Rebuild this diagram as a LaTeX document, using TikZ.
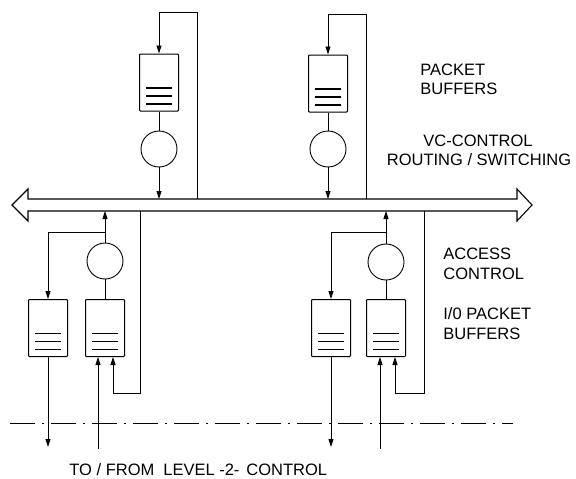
\documentclass[tikz,border=0pt]{standalone}
\usepackage{fontspec}
\setmainfont{Liberation Sans}
\usetikzlibrary{arrows.meta}
\begin{document}
\begin{tikzpicture}[x=1pt,y=-1pt,
  line width=0.8pt,
  buf/.style={draw,line width=1pt,rounded corners=0.8pt,minimum width=39pt,minimum height=57pt,inner sep=0pt,
    path picture={
      \foreach \d in {23,15,7}{
        \draw[line width=1.1pt] ([shift={(-13,-\d)}]path picture bounding box.south) -- ([shift={(13,-\d)}]path picture bounding box.south);
      }}},
  ctl/.style={draw,line width=0.9pt,circle,minimum size=36pt,inner sep=0pt},
  arr/.style={-{Triangle[length=8pt,width=5pt]}},
  lbl/.style={font=\fontsize{16.5}{20}\selectfont,inner sep=0pt},
  dashdot/.style={line width=0.8pt,dash pattern=on 25pt off 7pt on 2pt off 7pt}
]
\useasboundingbox (0,0) rectangle (576,479);

% bus
\draw[line width=1.1pt,fill=white] (28,199) -- (517,199) -- (517,189) -- (532,205) -- (517,221) -- (517,211)
  -- (28,211) -- (28,221) -- (12,205) -- (28,189) -- cycle;

% coordinates on bus
\coordinate (bt1) at (159,199);
\coordinate (bt1r) at (197,199);
\coordinate (bt2) at (328,199);
\coordinate (bt2r) at (366,199);
\coordinate (bb1) at (105,211);
\coordinate (bb1r) at (140,211);
\coordinate (bb2) at (386,211);
\coordinate (bb2r) at (424,211);

% top modules
\node[buf] (t1) at (159,82.5) {};
\node[ctl] (c1) at (159,149) {};
\node[buf] (t2) at (328,83.5) {};
\node[ctl] (c2) at (328,149) {};
\draw (t1.south) -- (c1.north);
\draw (t2.south) -- (c2.north);
\draw[arr] (c1.south) -- (bt1);
\draw[arr] (c2.south) -- (bt2);
\draw[arr] (bt1r) |- (159,12) -- (t1.north);
\draw[arr] (bt2r) |- (328,14) -- (t2.north);

% bottom left group
\node[buf] (l1) at (48,328) {};
\node[buf] (l2) at (105,328) {};
\node[ctl] (cl) at (105,261) {};
\draw (l2.north) -- (cl.north |- l2.north) -- (cl.south);
\draw[arr] (cl.north) -- (bb1);
\coordinate (jl) at (105,232);
\draw[arr] (jl) -| (l1.north);
\coordinate (l1out) at (48,447);
\draw[arr] (l1.south) -- (l1out);
\coordinate (l2in) at (98,449);
\draw[arr] (l2in) -- (l2in |- l2.south);
\draw[arr] (bb1r) -- (140,393) -| (113,357);

% bottom right group
\node[buf] (r1) at (331,328) {};
\node[buf] (r2) at (386,328) {};
\node[ctl] (cr) at (386,262) {};
\draw (r2.north) -- (cr.south);
\draw[arr] (cr.north) -- (bb2);
\coordinate (jr) at (386,232);
\draw[arr] (jr) -| (r1.north);
\coordinate (r1out) at (331,447);
\draw[arr] (r1.south) -- (r1out);
\coordinate (r2in) at (380,449);
\draw[arr] (r2in) -- (r2in |- r2.south);
\draw[arr] (bb2r) -- (424,393) -| (395,357);

% dash-dot boundary
\coordinate (dl) at (10,423);
\coordinate (dr) at (513,423);
\draw[dashdot] (dl) -- (dr);

% labels
\node[lbl,anchor=base west] (p1) at (420,75) {PACKET};
\node[lbl,anchor=base west] (p2) at (420,94) {BUFFERS};
\node[lbl,anchor=base] (v1) at (478,146) {VC-CONTROL};
\node[lbl,anchor=base] (v2) at (479,165) {ROUTING / SWITCHING};
\node[lbl,anchor=base west] (a1) at (443,259) {ACCESS};
\node[lbl,anchor=base west] (a2) at (443,279) {CONTROL};
\node[lbl,anchor=base west] (i1) at (443,319) {I/0 PACKET};
\node[lbl,anchor=base west] (i2) at (443,339) {BUFFERS};
\node[lbl,anchor=base west] (tf) at (69,475) {TO / FROM\hspace{9pt}LEVEL -2-\hspace{7pt}CONTROL};
\end{tikzpicture}
\end{document}
